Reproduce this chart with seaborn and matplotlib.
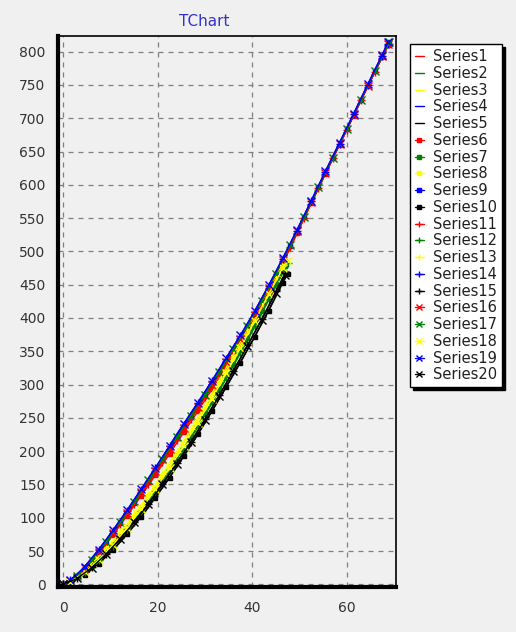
import matplotlib
matplotlib.use("Agg")
import matplotlib.pyplot as plt
import seaborn as sns
from matplotlib.ticker import MultipleLocator
from matplotlib.lines import Line2D

# ---------------- data ----------------
X_UP = [0, 3, 6, 9, 12, 15, 18, 21, 24, 27, 30, 33, 36, 39, 42, 45, 48, 51, 54, 57, 60, 63, 66, 69]
X_UP2 = [0, 1.5, 4.5, 7.5, 10.5, 13.5, 16.5, 19.5, 22.5, 25.5, 28.5, 31.5, 34.5, 37.5, 40.5, 43.5,
         46.5, 49.5, 52.5, 55.5, 58.5, 61.5, 64.5, 67.5, 68.8]
X_LO = [0, 1.5, 4.5, 7.5, 10.5, 13.5, 16.5, 19.5, 22.5, 25.5, 28.5, 31.5, 34.5, 37.5, 40.5, 43.5, 46.5, 47.5]
X_LO2 = [0, 3, 6, 9, 12, 15, 18, 21, 24, 27, 30, 33, 36, 39, 42, 45, 47]

S1 = [0, 5, 23, 48, 76, 106, 137, 168, 201, 233, 265, 298, 332, 366, 403, 443, 486, 529, 573, 617, 661, 705, 749, 793, 811]
S2 = [0, 4, 17, 35, 56, 81, 108, 138, 169, 202, 236, 272, 309, 347, 386, 427, 468, 480]
S3 = [0, 12, 34, 60, 89, 119, 150, 182, 215, 247, 279, 313, 347, 382, 420, 461, 505, 550, 595, 640, 683, 727, 771, 813]
S4 = [0, 14, 38, 65, 95, 126, 158, 190, 224, 256, 288, 322, 356, 390, 428, 468, 510, 553, 597, 641, 684, 728, 772, 815]
S5 = [0, 3, 15, 32, 52, 76, 102, 131, 161, 193, 226, 261, 297, 334, 372, 412, 455, 470]
S6 = [0, 5, 22, 46, 74, 103, 133, 164, 196, 228, 260, 293, 327, 361, 398, 438, 482, 527, 572, 616, 660, 704, 748, 792, 810]
S7 = [0, 11, 28, 49, 72, 98, 126, 157, 189, 222, 257, 293, 331, 370, 410, 451, 478]
S8 = [0, 12, 30, 52, 76, 103, 132, 163, 196, 230, 265, 302, 340, 379, 419, 458, 484]
S9 = [0, 13, 36, 62, 92, 122, 154, 186, 219, 251, 283, 317, 351, 386, 424, 465, 508, 552, 596, 640, 684, 728, 771, 814]
S10 = [0, 3, 14, 31, 51, 75, 101, 130, 160, 192, 225, 260, 296, 333, 371, 411, 453, 466]
S11 = [0, 12, 35, 61, 90, 120, 151, 183, 216, 248, 280, 314, 348, 383, 421, 462, 506, 550, 595, 640, 683, 727, 770, 812]
S12 = [0, 4, 18, 36, 58, 83, 110, 140, 171, 204, 238, 274, 311, 349, 388, 429, 470, 482]
S13 = [0, 12, 31, 53, 78, 105, 134, 166, 199, 233, 269, 306, 345, 384, 425, 463, 488]
S14 = [0, 6, 25, 51, 80, 110, 142, 174, 207, 240, 272, 305, 339, 373, 409, 448, 489, 531, 575, 619, 662, 706, 750, 794, 812]
S15 = [0, 10, 26, 46, 69, 94, 121, 151, 182, 214, 248, 284, 321, 359, 398, 440, 468]
S16 = [0, 5, 24, 49, 77, 107, 138, 170, 203, 235, 267, 300, 334, 368, 405, 445, 487, 530, 574, 618, 661, 705, 749, 793, 811]
S17 = [0, 13, 37, 63, 93, 124, 156, 188, 221, 253, 285, 319, 353, 388, 426, 466, 509, 552, 596, 640, 684, 728, 771, 814]
S18 = [0, 4, 18, 37, 59, 85, 113, 143, 175, 208, 243, 279, 317, 355, 395, 436, 475, 486]
S19 = [0, 6, 26, 52, 81, 111, 143, 175, 208, 241, 273, 306, 340, 374, 410, 449, 490, 532, 576, 620, 663, 707, 751, 795, 815]
S20 = [0, 9, 25, 45, 68, 93, 120, 150, 181, 213, 247, 283, 320, 358, 397, 438, 465]

SERIES_NAMES = [f"Series{i}" for i in range(1, 21)]
SERIES_X = [X_UP2, X_LO, X_UP, X_UP, X_LO,
            X_UP2, X_LO2, X_LO2, X_UP, X_LO,
            X_UP, X_LO, X_LO2, X_UP2, X_LO2,
            X_UP2, X_UP, X_LO, X_UP2, X_LO2]
SERIES_Y = [S1, S2, S3, S4, S5, S6, S7, S8, S9, S10,
            S11, S12, S13, S14, S15, S16, S17, S18, S19, S20]

X_TICKS = [0, 20, 40, 60]
Y_TICKS = list(range(0, 801, 50))

# ---------------- style ----------------
BG = "#f0f0f0"
COLORS = ["#ff0000", "#008000", "#ffff00", "#0000ff", "#000000"]
MARKERS = [None, "s", "+", "x"]

sns.set_style("white")
plt.rcParams["font.family"] = ["DejaVu Sans"]

fig = plt.figure(figsize=(5.16, 6.32), dpi=100, facecolor=BG)
ax = fig.add_axes([58 / 516, 1 - 587.3 / 632, (396 - 58) / 516, (587.3 - 36) / 632])
ax.set_facecolor(BG)

handles = []
for i, (name, xs, ys) in enumerate(zip(SERIES_NAMES, SERIES_X, SERIES_Y)):
    col = COLORS[i % 5]
    mk = MARKERS[i // 5]
    lw = 1.6 if i == 3 else 1.0
    ms = 3.5 if mk == "s" else 5.5
    sns.lineplot(x=xs, y=ys, ax=ax, color=col, linewidth=lw, marker=mk,
                 markersize=ms, markeredgewidth=1.0, markeredgecolor=col,
                 sort=False, estimator=None, legend=False, zorder=2 + i * 0.01)
    handles.append(Line2D([], [], color=col, linewidth=1.0, marker=mk,
                          markersize=(3.5 if mk == "s" else 5), markeredgecolor=col, label=name))

ax.set_xlim(-1.12, 70.44)
ax.set_ylim(-4.5, 823.5)
ax.set_xticks(X_TICKS)
ax.set_yticks(Y_TICKS)
ax.xaxis.set_minor_locator(MultipleLocator(5))
ax.grid(True, which="major", color="#808080", linestyle=(0, (4, 4)), linewidth=0.9)
ax.set_axisbelow(True)

ax.tick_params(axis="both", which="major", direction="out", length=5, width=1,
               color="#404040", labelsize=10, labelcolor="#333333", pad=4)
ax.tick_params(axis="x", which="minor", direction="out", length=3, width=0.8, color="#404040")
ax.tick_params(axis="x", which="major", pad=5)

for side in ["left", "bottom"]:
    ax.spines[side].set_linewidth(3)
    ax.spines[side].set_color("black")
for side in ["top", "right"]:
    ax.spines[side].set_linewidth(1.2)
    ax.spines[side].set_color("black")

ax.set_xlabel("")
ax.set_ylabel("")

leg = ax.legend(handles=handles, loc="upper left",
                bbox_to_anchor=((410 - 58) / 338, (587.3 - 44) / 551.3),
                frameon=True, fancybox=False,
                shadow={"facecolor": "black", "edgecolor": "black", "alpha": 1.0},
                fontsize=10.5, handlelength=0.6, handletextpad=0.6, labelspacing=0.12,
                borderpad=0.35, borderaxespad=0)
leg.get_frame().set_edgecolor("black")
leg.get_frame().set_linewidth(1.0)
leg.get_frame().set_facecolor("white")
for t in leg.get_texts():
    t.set_color("#202020")

fig.text(204.5 / 516, 1 - 21 / 632, "TChart", color="#3333cc", fontsize=11,
         ha="center", va="center")

fig.savefig("out.png", dpi=100, facecolor=BG)
